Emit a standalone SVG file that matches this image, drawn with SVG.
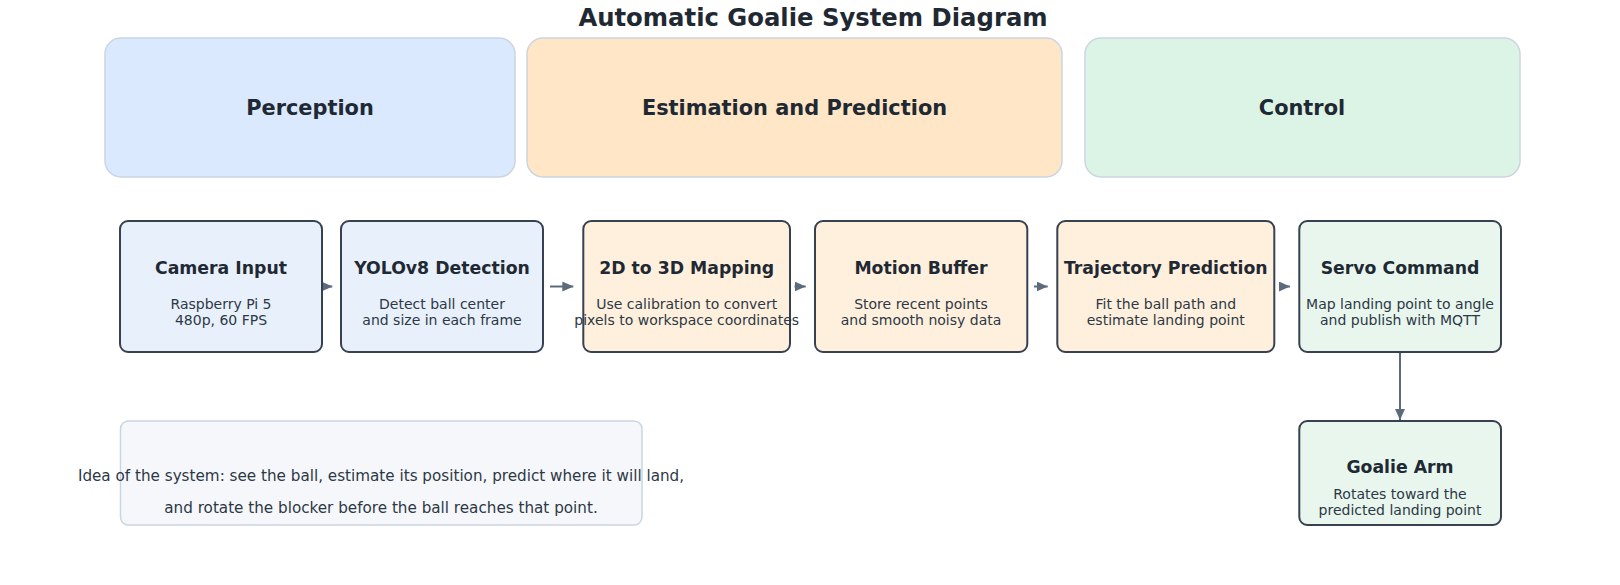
<svg xmlns="http://www.w3.org/2000/svg" width="1620" height="585" viewBox="0 0 1620 585">
<style>
text{font-family:"DejaVu Sans","Liberation Sans",sans-serif;fill:#1f2933;text-anchor:middle}
.title{font-size:24.3px;font-weight:bold}
.phase{stroke:#cbd5e1;stroke-width:1.5}
.plabel{font-size:20.9px;font-weight:bold}
.node{stroke:#374151;stroke-width:2}
.ntitle{font-size:17.3px;font-weight:bold}
.nsub{font-size:14px;fill:#2d3846}
.note{font-size:15.2px;fill:#2d3846}
.conn{stroke:#5b6b7c;stroke-width:2;fill:none}
</style>
<defs>
<marker id="ah" markerUnits="userSpaceOnUse" markerWidth="11" markerHeight="10" refX="11" refY="5" orient="auto">
<path d="M0,0 L11,5 L0,10 Z" fill="#5b6b7c"/>
</marker>
</defs>
<text class="title" x="813" y="26">Automatic Goalie System Diagram</text>
<g id="phase-perception">
<rect class="phase" x="105" y="38" width="410" height="139" rx="16" fill="#dbe9fe"/>
<text class="plabel" x="310" y="114.5">Perception</text>
</g>
<g id="phase-estimation">
<rect class="phase" x="527" y="38" width="535" height="139" rx="16" fill="#fee6c6"/>
<text class="plabel" x="794.5" y="114.5">Estimation and Prediction</text>
</g>
<g id="phase-control">
<rect class="phase" x="1085" y="38" width="435" height="139" rx="16" fill="#dcf4e6"/>
<text class="plabel" x="1302" y="114.5">Control</text>
</g>
<g id="connectors">
<path class="conn" d="M321.7,286.5 L332.3,286.5" marker-end="url(#ah)"/>
<path class="conn" d="M550,286.5 L573.3,286.5" marker-end="url(#ah)"/>
<path class="conn" d="M794.5,286.5 L805.7,286.5" marker-end="url(#ah)"/>
<path class="conn" d="M1034,286.5 L1047.7,286.5" marker-end="url(#ah)"/>
<path class="conn" d="M1279,286.5 L1290,286.5" marker-end="url(#ah)"/>
<path class="conn" d="M1400,352 L1400,420" marker-end="url(#ah)"/>
</g>
<g id="node-camera">
<rect class="node" x="120" y="221" width="202" height="131" rx="8" fill="#e8f0fb"/>
<text class="ntitle" x="221" y="274">Camera Input</text>
<text class="nsub" x="221" y="309">Raspberry Pi 5</text>
<text class="nsub" x="221" y="325">480p, 60 FPS</text>
</g>
<g id="node-yolo">
<rect class="node" x="341" y="221" width="202" height="131" rx="8" fill="#e8f0fb"/>
<text class="ntitle" x="442" y="274">YOLOv8 Detection</text>
<text class="nsub" x="442" y="309">Detect ball center</text>
<text class="nsub" x="442" y="325">and size in each frame</text>
</g>
<g id="node-mapping">
<rect class="node" x="583.3" y="221" width="206.7" height="131" rx="8" fill="#fff0dd"/>
<text class="ntitle" x="686.7" y="274">2D to 3D Mapping</text>
<text class="nsub" x="686.7" y="309">Use calibration to convert</text>
<text class="nsub" x="686.7" y="325">pixels to workspace coordinates</text>
</g>
<g id="node-buffer">
<rect class="node" x="815" y="221" width="212.3" height="131" rx="8" fill="#fff0dd"/>
<text class="ntitle" x="921" y="274">Motion Buffer</text>
<text class="nsub" x="921" y="309">Store recent points</text>
<text class="nsub" x="921" y="325">and smooth noisy data</text>
</g>
<g id="node-trajectory">
<rect class="node" x="1057.3" y="221" width="217" height="131" rx="8" fill="#fff0dd"/>
<text class="ntitle" x="1165.8" y="274">Trajectory Prediction</text>
<text class="nsub" x="1165.8" y="309">Fit the ball path and</text>
<text class="nsub" x="1165.8" y="325">estimate landing point</text>
</g>
<g id="node-servo">
<rect class="node" x="1299.3" y="221" width="201.7" height="131" rx="8" fill="#e8f6ed"/>
<text class="ntitle" x="1400" y="274">Servo Command</text>
<text class="nsub" x="1400" y="309">Map landing point to angle</text>
<text class="nsub" x="1400" y="325">and publish with MQTT</text>
</g>
<g id="node-goalie">
<rect class="node" x="1299.3" y="421" width="201.7" height="104" rx="8" fill="#e8f6ed"/>
<text class="ntitle" x="1400" y="472.7">Goalie Arm</text>
<text class="nsub" x="1400" y="499">Rotates toward the</text>
<text class="nsub" x="1400" y="515">predicted landing point</text>
</g>
<g id="note">
<rect x="120.5" y="421" width="521.5" height="104" rx="8" fill="#f5f7fa" stroke="#cbd5e1" stroke-width="1.5"/>
<text class="note" x="381" y="480.5">Idea of the system: see the ball, estimate its position, predict where it will land,</text>
<text class="note" x="381" y="512.5">and rotate the blocker before the ball reaches that point.</text>
</g>
</svg>
